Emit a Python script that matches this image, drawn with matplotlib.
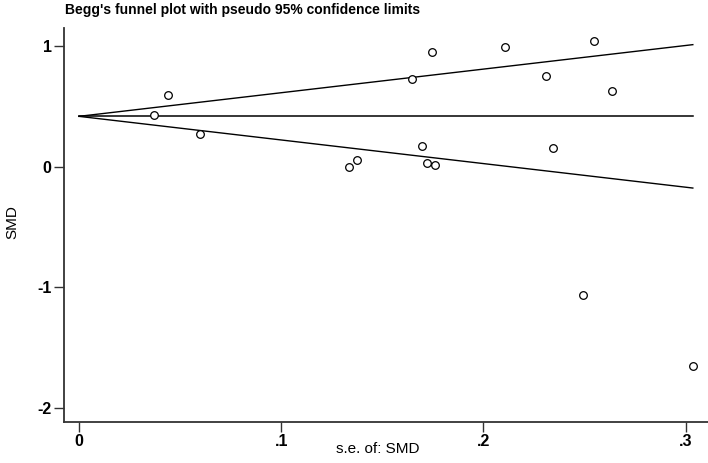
import numpy as np
import matplotlib.pyplot as plt

plt.rcParams['font.family'] = ['Liberation Sans', 'DejaVu Sans']
plt.rcParams['axes.unicode_minus'] = False

# study standard errors and SMDs
se = [0.0372, 0.0440, 0.0598, 0.1333, 0.1377, 0.1646, 0.1697, 0.1722,
      0.1743, 0.1761, 0.2104, 0.2310, 0.2346, 0.2546, 0.2636, 0.2490, 0.3035]
smd = [0.432, 0.598, 0.274, 0.000, 0.058, 0.728, 0.172, 0.031,
       0.954, 0.017, 0.993, 0.758, 0.160, 1.043, 0.628, -1.062, -1.651]
pooled = 0.42

xticks = [0, 0.1, 0.2, 0.3]
xticklabels = ['0', '.1', '.2', '.3']
yticks = [-2, -1, 0, 1]
yticklabels = ['-2', '-1', '0', '1']

se_max = max(se)
s_line = np.array([0, se_max])

fig = plt.figure(figsize=(7.08, 4.63), dpi=100)
ax = fig.add_axes([64/708, 1 - 422/463, 644/708, 394/463])

ax.plot(s_line, [pooled, pooled], color='black', lw=1.1)
ax.plot(s_line, pooled + 1.96*s_line, color='black', lw=1.0)
ax.plot(s_line, pooled - 1.96*s_line, color='black', lw=1.0)
ax.plot(se, smd, 'o', mfc='white', mec='black', ms=5.5, mew=0.9, ls='none')

ax.set_xlim(-0.0074, 0.311)
ax.set_ylim(-2.116, 1.153)
ax.set_xticks(xticks)
ax.set_xticklabels(xticklabels, fontweight='bold')
ax.set_yticks(yticks)
ax.set_yticklabels(yticklabels, fontweight='bold')

for s in ['top', 'right']:
    ax.spines[s].set_visible(False)
for s in ['left', 'bottom']:
    ax.spines[s].set_color('#333333')
    ax.spines[s].set_linewidth(1.3)
ax.tick_params(length=7, width=1.0, color='#333333', labelsize=11.5, pad=2)

fig.text(12/708, 1 - 222/463, 'SMD', fontsize=11, rotation=90,
         ha='center', va='center')
fig.text(378/708, 1 - 449/463, 's.e. of: SMD', fontsize=11,
         ha='center', va='center')

fig.text(65/708, 1 - 14/463, "Begg's funnel plot with pseudo 95% confidence limits",
         fontsize=10, fontweight='bold', va='baseline', ha='left')

fig.savefig('out.png', dpi=100)
